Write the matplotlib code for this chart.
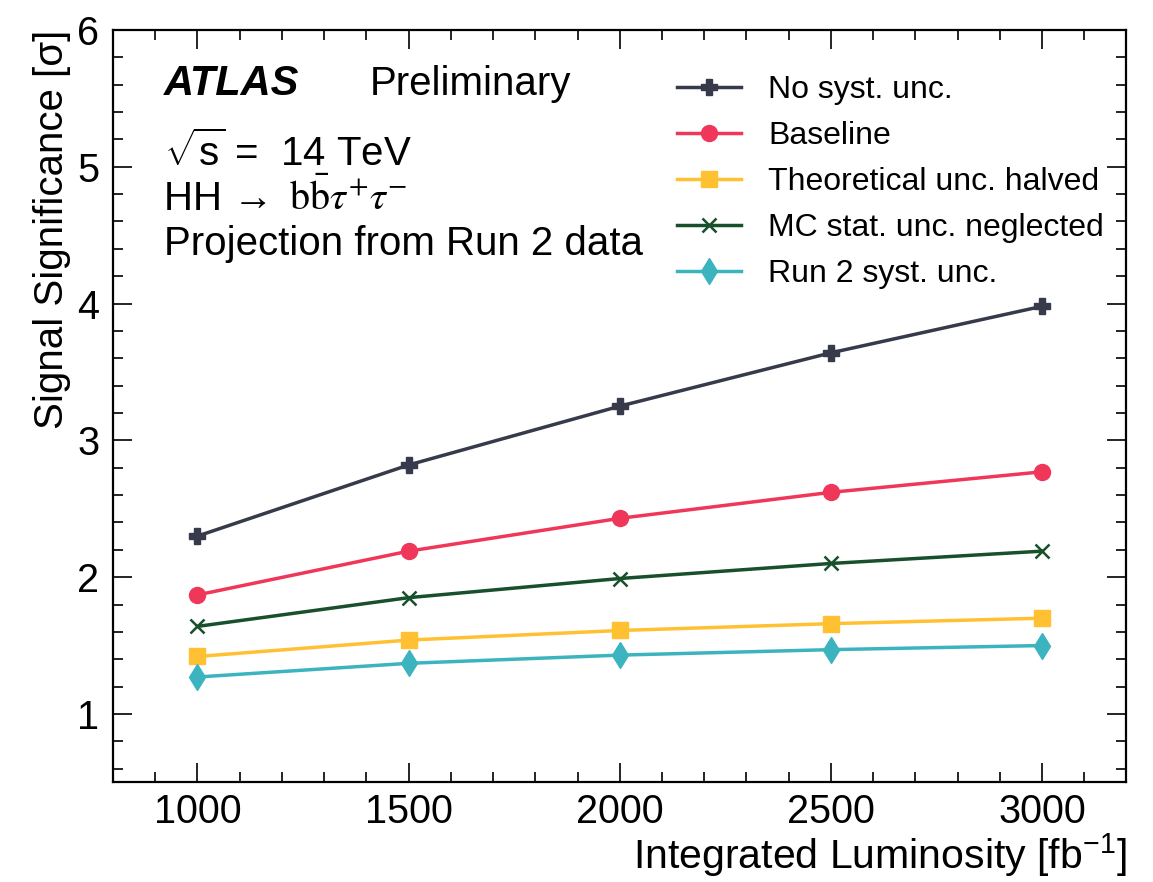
import matplotlib
matplotlib.use("Agg")
from matplotlib import pyplot as plt
from matplotlib.ticker import MultipleLocator

plt.rcParams["font.family"] = ["Liberation Sans", "DejaVu Sans"]
plt.rcParams["mathtext.fontset"] = "custom"
plt.rcParams["mathtext.rm"] = "Liberation Sans"
plt.rcParams["mathtext.it"] = "Liberation Sans:italic"

# Projected significance vs integrated luminosity
lumi = [1000, 1500, 2000, 2500, 3000]
no_syst = [2.30, 2.82, 3.25, 3.64, 3.98]
baseline = [1.87, 2.19, 2.43, 2.62, 2.77]
theory_halved = [1.42, 1.54, 1.61, 1.66, 1.70]
mc_stat_neglected = [1.64, 1.85, 1.99, 2.10, 2.19]
run2_syst = [1.27, 1.37, 1.43, 1.47, 1.50]

series = [
    ("No syst. unc.", no_syst, "#363a4a", "P", 12),
    ("Baseline", baseline, "#f0375a", "o", 11.5),
    ("Theoretical unc. halved", theory_halved, "#ffc132", "s", 11),
    ("MC stat. unc. neglected", mc_stat_neglected, "#17502a", "x", 10),
    ("Run 2 syst. unc.", run2_syst, "#3cb4c0", "d", 13),
]

fig, ax = plt.subplots(figsize=(11.53, 8.82), dpi=100)
fig.subplots_adjust(left=0.098, right=0.977, top=0.966, bottom=0.113)

for label, vals, color, marker, ms in series:
    ax.plot(lumi, vals, color=color, marker=marker, markersize=ms,
            linewidth=2.5, label=label, markeredgewidth=1.8 if marker == "x" else 1)

ax.set_xlim(800, 3200)
ax.set_ylim(0.5, 6)
ax.xaxis.set_major_locator(MultipleLocator(500))
ax.xaxis.set_minor_locator(MultipleLocator(100))
ax.yaxis.set_major_locator(MultipleLocator(1))
ax.yaxis.set_minor_locator(MultipleLocator(0.2))
ax.tick_params(which="both", direction="in", top=True, right=True, labelsize=28.5, width=1.2)
ax.tick_params(which="major", length=14, pad=10)
ax.tick_params(axis="x", which="major", pad=8)
ax.tick_params(which="minor", length=7)
for s in ax.spines.values():
    s.set_linewidth(1.6)

ax.set_xlabel("Integrated Luminosity [fb$^{-1}$]", fontsize=29.5, loc="right", labelpad=0)
ax.set_ylabel("Signal Significance [σ]", fontsize=29, loc="top", labelpad=4)

ax.text(0.05, 0.914, "ATLAS", transform=ax.transAxes, fontsize=30,
        fontweight="bold", fontstyle="italic")
ax.text(0.253, 0.914, "Preliminary", transform=ax.transAxes, fontsize=29)
ax.text(0.05, 0.820, r"$\sqrt{\mathrm{s}}$ =  14 TeV", transform=ax.transAxes, fontsize=29)
ax.text(0.05, 0.761, "HH →", transform=ax.transAxes, fontsize=29)
ax.text(0.174, 0.761, r"$\mathrm{b\bar{b}}\tau^{+}\tau^{-}$", transform=ax.transAxes,
        fontsize=29, math_fontfamily="stix")
ax.text(0.05, 0.701, "Projection from Run 2 data", transform=ax.transAxes, fontsize=29)

ax.legend(loc="upper right", bbox_to_anchor=(1.006, 0.978), frameon=False,
          fontsize=23, handlelength=2.0, handletextpad=0.85, labelspacing=0.5)

fig.savefig("out.png", dpi=100)
